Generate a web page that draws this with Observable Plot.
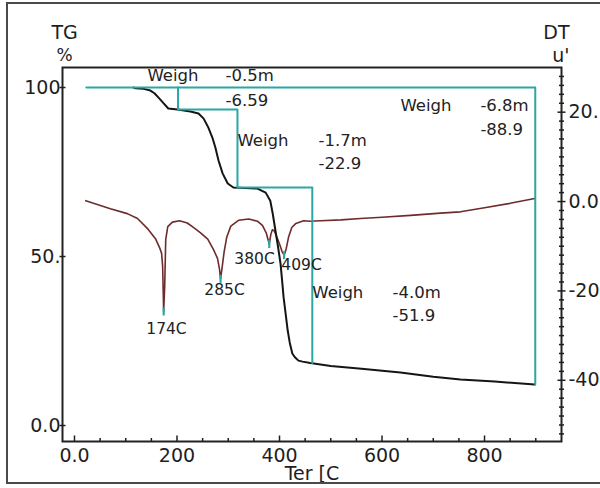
<!DOCTYPE html>
<html>
<head>
<meta charset="utf-8">
<script src="https://cdn.jsdelivr.net/npm/d3@7"></script>
<script src="https://cdn.jsdelivr.net/npm/@observablehq/plot@0.6"></script>
<style>
  html, body { margin: 0; padding: 0; background: #fff; }
  #wrap { position: relative; width: 600px; height: 488px; overflow: hidden; background: #fff; }
  #wrap svg { position: absolute; left: 0; top: 0; background: transparent; }
  #border { position: absolute; left: 6px; top: 2px; width: 640px; height: 478px; border: 2px solid #4a4a4a; pointer-events: none; }
</style>
</head>
<body>
<div id="wrap"><div id="border"></div></div>
<script>
// ---- TG curve (temperature °C, mass %) ----
const tgTemp = [115, 119, 135, 148, 156, 164, 174, 183, 201, 226, 242, 252, 261, 269, 275, 281, 289, 299, 310, 357, 373, 382, 387, 392, 397, 402, 405, 408, 412, 416, 420, 425, 430, 437, 445, 460, 500, 560, 636, 700, 753, 820, 898];
const tgMass = [100.0, 99.8, 99.6, 99.1, 98.3, 97.0, 95.3, 93.8, 93.5, 92.9, 92.3, 90.8, 88.2, 85.2, 82.2, 78.4, 74.6, 71.6, 70.4, 70.1, 68.9, 66.5, 62.5, 57.7, 53.0, 47.9, 43.0, 37.9, 33.0, 28.1, 24.5, 21.3, 20.2, 19.2, 18.9, 18.5, 17.6, 16.8, 15.7, 14.4, 13.6, 13.0, 12.1];

// ---- DTA curve (temperature °C, uV) ----
const dtaTemp = [22, 37, 70, 103, 123, 142, 158, 166, 170, 172, 174, 176, 178, 182, 191, 205, 220, 232, 246, 260, 271, 279, 283, 285, 288, 292, 297, 305, 320, 340, 357, 367, 374, 380, 383, 386, 390, 395, 400, 405, 409, 413, 418, 424, 432, 447, 460, 480, 520, 558, 600, 656, 714, 753, 800, 850, 898];
const dtaValue = [0.2, -0.4, -1.6, -2.7, -3.8, -6.0, -8.3, -10.3, -11.6, -14.5, -24.6, -19.0, -8.5, -5.6, -4.6, -4.3, -4.8, -5.8, -7.0, -8.4, -10.7, -12.7, -15.2, -17.3, -14.8, -11.2, -8.0, -5.5, -4.2, -3.9, -4.4, -5.4, -7.0, -9.5, -7.4, -6.3, -6.6, -8.0, -9.5, -11.2, -12.0, -10.6, -7.8, -5.8, -4.9, -4.3, -4.4, -4.3, -4.1, -3.8, -3.5, -3.1, -2.6, -2.3, -1.4, -0.4, 0.7];

// ---- DTA peaks ----
const peakTemp = [174, 285, 380, 409];
const peakValue = [-24.6, -17.3, -9.5, -12.0];
const peakLabels = ["174C", "285C", "380C", "409C"];
const peakLabelTemp = [179.5, 292.7, 351.2, 443];
const peakLabelValue = [-28.5, -19.9, -12.8, -14.3];

// ---- weight-step outline (teal) ----
const outerStepTemp = [23, 899, 899];
const outerStepMass = [100, 100, 12.1];
const innerStepTemp = [202, 202, 318, 318, 464, 464];
const innerStepMass = [100, 93.5, 93.5, 70.4, 70.4, 18.5];

// ---- weight-step annotations ----
const annText = ["Weigh", "-0.5m", "-6.59", "Weigh", "-1.7m", "-22.9", "Weigh", "-6.8m", "-88.9", "Weigh", "-4.0m", "-51.9"];
const annTemp = [142.4, 294.6, 294.6, 318, 476, 476, 636, 792, 792, 464, 620.5, 620.5];
const annMass = [103.55, 103.55, 96.15, 84.3, 84.3, 77.5, 94.7, 94.7, 87.6, 39.35, 39.35, 32.5];

// ---- axes ----
const xTicks = [0, 200, 400, 600, 800];
const xTickLabels = ["0.0", "200", "400", "600", "800"];
const yTicks = [100, 50, 0];
const yTickLabels = ["100", "50.", "0.0"];
const dtaTicks = [20, 0, -20, -40];
const dtaTickLabels = ["20.", "0.0", "-20", "-40"];

const xDomain = [-23.4, 950.2];
const yDomain = [-4.73, 105.92];
const dtaDomain = [-53.7, 30.0];
const dtaToY = d3.scaleLinear().domain(dtaDomain).range(yDomain);

const tg = tgTemp.map((t, i) => ({t, m: tgMass[i]}));
const dta = dtaTemp.map((t, i) => ({t, v: dtaValue[i]}));
const peaks = peakTemp.map((t, i) => ({t, v: peakValue[i]}));
const peakLab = peakLabels.map((s, i) => ({s, t: peakLabelTemp[i], v: peakLabelValue[i]}));
const steps = [
  ...outerStepTemp.map((t, i) => ({z: "outer", t, m: outerStepMass[i]})),
  ...innerStepTemp.map((t, i) => ({z: "inner", t, m: innerStepMass[i]}))
];
const ann = annText.map((s, i) => ({s, t: annTemp[i], m: annMass[i]}));

const teal = "#2ba7a6";
const ink = "#1e1e1e";

// tick glyphs
const tickUp = {draw(ctx, size) { const r = Math.sqrt(size / Math.PI); ctx.moveTo(0, 0); ctx.lineTo(0, -r); }};
const tickH = {draw(ctx, size) { const r = Math.sqrt(size / Math.PI); ctx.moveTo(-r / 2, 0); ctx.lineTo(r / 2, 0); }};
const tickV = {draw(ctx, size) { const r = Math.sqrt(size / Math.PI); ctx.moveTo(0, -r / 2); ctx.lineTo(0, r / 2); }};

const xMinor = d3.range(0, 901, 50).filter(d => d % 200 !== 0);
const dtaMinor = d3.range(-52, 30, 2).filter(d => d % 20 !== 0);

const chart = Plot.plot({
  width: 600,
  height: 488,
  marginLeft: 62,
  marginRight: 39,
  marginTop: 67,
  marginBottom: 47,
  style: {fontFamily: "DejaVu Sans", background: "transparent", overflow: "visible"},
  x: {type: "linear", domain: xDomain, axis: null},
  y: {type: "linear", domain: yDomain, axis: null},
  marks: [
    // DTA curve
    Plot.line(dta, {x: "t", y: d => dtaToY(d.v), stroke: "#6e2b2b", strokeWidth: 1.6}),
    // TG curve
    Plot.line(tg, {x: "t", y: "m", stroke: "#151515", strokeWidth: 2}),
    // teal step outline
    Plot.line(steps, {x: "t", y: "m", z: "z", stroke: teal, strokeWidth: 2, curve: "linear"}),
    // peak markers
    Plot.dot(peaks, {x: "t", y: d => dtaToY(d.v), symbol: tickV, r: 8, fill: "none", stroke: teal, strokeWidth: 2.2}),
    // peak labels
    Plot.text(peakLab, {x: "t", y: d => dtaToY(d.v), text: "s", fontSize: 15.5, fill: "#222", lineAnchor: "middle"}),
    // step annotations
    Plot.text(ann, {x: "t", y: "m", text: "s", textAnchor: "start", fontSize: 16.5, fill: "#222", lineAnchor: "middle"}),
    // frame
    Plot.frame({stroke: "#222", strokeWidth: 2}),
    // bottom ticks (inward)
    Plot.dot(xTicks, {x: d => d, frameAnchor: "bottom", symbol: tickUp, r: 6, fill: "none", stroke: ink, strokeWidth: 1.5}),
    Plot.dot(xMinor, {x: d => d, frameAnchor: "bottom", symbol: tickUp, r: 3.5, fill: "none", stroke: ink, strokeWidth: 1.5}),
    // left ticks
    Plot.dot(yTicks, {y: d => d, frameAnchor: "left", symbol: tickH, r: 6, fill: "none", stroke: ink, strokeWidth: 1.5}),
    // right ticks
    Plot.dot(dtaTicks, {y: d => dtaToY(d), frameAnchor: "right", symbol: tickH, r: 8, fill: "none", stroke: ink, strokeWidth: 1.5}),
    Plot.dot(dtaMinor, {y: d => dtaToY(d), frameAnchor: "right", symbol: tickH, r: 5, fill: "none", stroke: ink, strokeWidth: 1.5}),
    // tick labels
    Plot.text(xTicks, {x: d => d, frameAnchor: "bottom", dy: 14, lineAnchor: "middle", text: (d, i) => xTickLabels[i], fontSize: 19, fill: ink}),
    Plot.text(yTicks, {y: d => d, frameAnchor: "left", dx: -2, lineAnchor: "middle", textAnchor: "end", text: (d, i) => yTickLabels[i], fontSize: 19, fill: ink}),
    Plot.text(dtaTicks, {y: d => dtaToY(d), frameAnchor: "right", dx: 7, lineAnchor: "middle", textAnchor: "start", text: (d, i) => dtaTickLabels[i], fontSize: 19, fill: ink}),
    // axis titles
    Plot.text(["TG"], {frameAnchor: "top-left", dx: -11, dy: -35, lineAnchor: "middle", text: d => d, fontSize: 19, fill: ink}),
    Plot.text(["%"], {frameAnchor: "top-left", dx: -6, dy: -12, lineAnchor: "middle", text: d => d, fontSize: 17, fill: ink}),
    Plot.text(["DT"], {frameAnchor: "top-right", dx: 8, dy: -35, lineAnchor: "middle", text: d => d, fontSize: 19, fill: ink}),
    Plot.text(["u'"], {frameAnchor: "top-right", dx: 8, dy: -12, lineAnchor: "middle", text: d => d, fontSize: 19, fill: ink}),
    Plot.text(["Ter [C"], {frameAnchor: "bottom", dy: 32, lineAnchor: "middle", text: d => d, fontSize: 19, fill: ink})
  ]
});
document.getElementById("wrap").insertBefore(chart, document.getElementById("border"));
</script>
</body>
</html>
